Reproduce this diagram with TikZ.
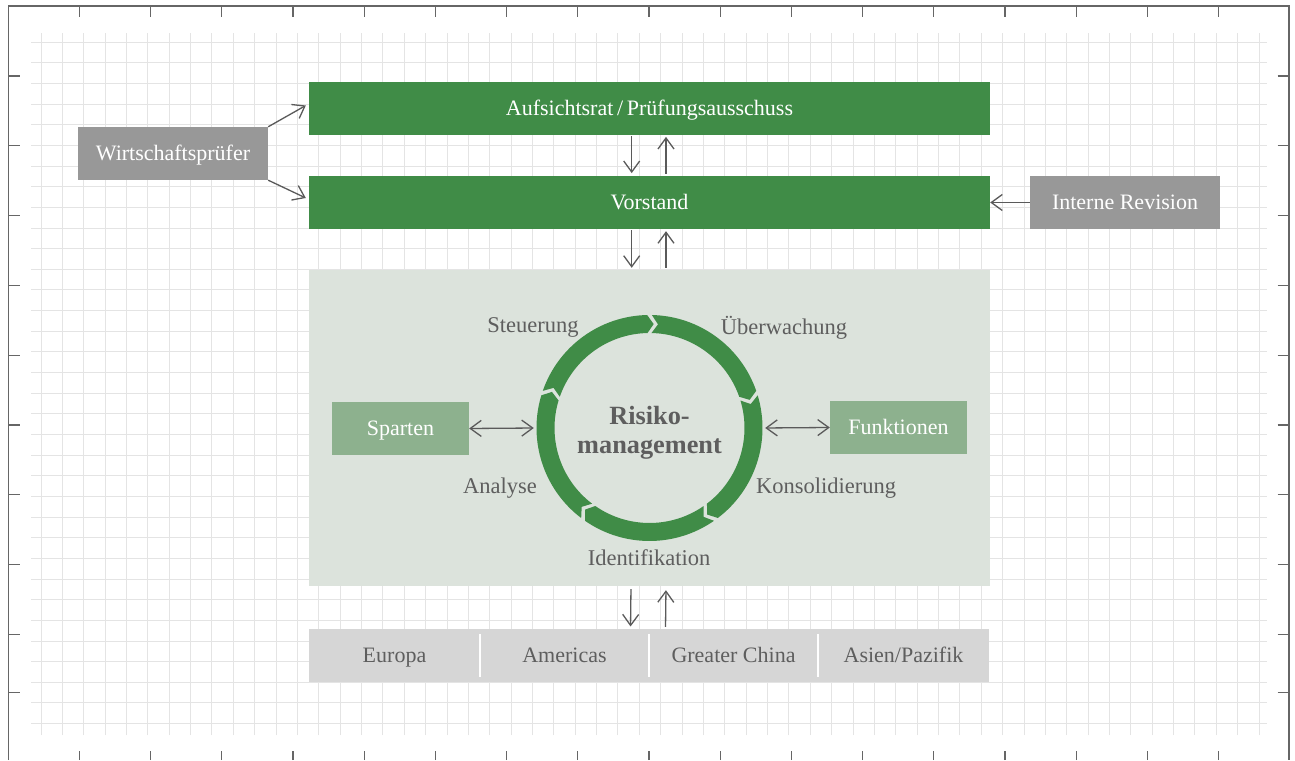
\documentclass[tikz,border=0pt]{standalone}
\usepackage{fontspec}
\setmainfont{Liberation Serif}
\usetikzlibrary{arrows.meta,calc}
\definecolor{mgreen}{HTML}{408C47}
\definecolor{boxgray}{HTML}{989898}
\definecolor{ltgreen}{HTML}{8DB18E}
\definecolor{riskbg}{HTML}{DCE3DC}
\definecolor{barbg}{HTML}{D6D6D6}
\definecolor{textgray}{HTML}{5E5E5E}
\definecolor{arrowc}{HTML}{5A5A5A}
\definecolor{gridc}{HTML}{E4E4E4}
\definecolor{framec}{HTML}{666666}
\newcommand{\txtfont}{\fontsize{22}{26}\selectfont}
\newcommand{\lblfont}{\fontsize{22.5}{27}\selectfont}
\newcommand{\boldfont}{\fontsize{26.3}{29}\selectfont\bfseries}
\tikzset{
  gridline/.style={draw=gridc, line width=1.3pt},
  frameline/.style={draw=framec, line width=1.5pt},
  tickline/.style={draw=framec, line width=1.2pt},
  txt/.style={font=\txtfont, text height=14.5pt, text depth=0pt, inner sep=0pt},
  greenbox/.style={txt, fill=mgreen, text=white, minimum width=681pt, minimum height=53pt},
  graybox/.style={txt, fill=boxgray, text=white, minimum width=190pt, minimum height=53pt},
  ltbox/.style={txt, fill=ltgreen, text=white, minimum width=137pt, minimum height=53pt},
  riskarea/.style={fill=riskbg, minimum width=681pt, minimum height=316pt, inner sep=0pt},
  barbox/.style={fill=barbg, minimum width=680pt, minimum height=53pt, inner sep=0pt},
  cell/.style={txt, text=textgray, minimum height=53pt},
  lbl/.style={font=\lblfont, text height=14.8pt, text depth=0pt, inner sep=0pt, text=textgray},
  arr/.style={draw=arrowc, line width=1.3pt, -{Straight Barb[length=11pt,width=16pt]}},
  darr/.style={draw=arrowc, line width=1.3pt, {Straight Barb[length=11pt,width=16pt]}-{Straight Barb[length=11pt,width=16pt]}},
  ringseg/.style={fill=mgreen},
  divider/.style={draw=white, line width=2pt}
}
\begin{document}
\begin{tikzpicture}[x=1pt,y=1pt]
\useasboundingbox (0,0) rectangle (1295,760);
\fill[white] (0,0) rectangle (1295,760);
% grid
\foreach \k in {0,...,57} {
  \pgfmathsetmacro\gx{round(40.5+21.37*\k)+0.5}
  \draw[gridline] (\gx,25) -- (\gx,727);
}
\foreach \k in {0,...,33} {
  \pgfmathsetmacro\gy{round(717.3-20.65*\k)+0.5}
  \draw[gridline] (31,\gy) -- (1267,\gy);
}
% frame and ticks
\draw[frameline] (8.5,0) -- (8.5,754) -- (1289,754) -- (1289,0);
\foreach \k in {0,...,16} {
  \pgfmathsetmacro\tx{79.3+71.2*\k}
  \draw[tickline] (\tx,754) -- (\tx,743);
  \draw[tickline] (\tx,0) -- (\tx,9.3);
}
\foreach \ty in {684,614.5,544.5,474.5,404.7,334.9,265.1,195.3,125.5,67.3} {
  \draw[tickline] (8.5,\ty) -- (20,\ty);
  \draw[tickline] (1277.7,\ty) -- (1289,\ty);
}
% boxes
\node[greenbox] (auf) at (649.5,651.5) {Aufsichtsrat\,/\,Prüfungsausschuss};
\node[greenbox] (vor) at (649.5,557.5) {Vorstand};
\node[graybox] (wp) at (173,606.5) {Wirtschaftsprüfer};
\node[graybox] (ir) at (1125,557.5) {Interne Revision};
\node[riskarea] (risk) at (649.5,332) {};
\node[ltbox] (sp) at (400.5,331.5) {Sparten};
\node[ltbox] (fk) at (898.5,332.5) {Funktionen};
\node[barbox] (bar) at (649,104.5) {};
\node[cell, minimum width=171pt] (eu) at (394.5,104.5) {Europa};
\node[cell, minimum width=169pt] (am) at (564.5,104.5) {Americas};
\node[cell, minimum width=169pt] (gc) at (733.5,104.5) {Greater China};
\node[cell, minimum width=171pt] (ap) at (903.5,104.5) {Asien/Pazifik};
\draw[divider] ([yshift=-5pt]eu.north east) -- ([yshift=5pt]eu.south east);
\draw[divider] ([yshift=-5pt]am.north east) -- ([yshift=5pt]am.south east);
\draw[divider] ([yshift=-5pt]gc.north east) -- ([yshift=5pt]gc.south east);
% ring
\node[circle, minimum size=226pt, inner sep=0pt] (ring) at (649.5,332) {};
\begin{scope}[shift={(649.5,332)}]
\def\R{113}\def\r{95}\def\M{104}\def\g{1.2}\def\d{3.5}
\foreach \s in {90,18,-54,-126,162} {
  \pgfmathsetmacro\aa{\s-\g}
  \pgfmathsetmacro\bb{\s-72+\g}
  \pgfmathsetmacro\tp{\s-72+\g-\d}
  \pgfmathsetmacro\nt{\s-\g-\d}
  \fill[ringseg] (\aa:\R) arc[start angle=\aa, end angle=\bb, radius=\R] -- (\tp:\M) -- (\bb:\r) arc[start angle=\bb, end angle=\aa, radius=\r] -- (\nt:\M) -- cycle;
}
\end{scope}
\node[font=\boldfont, text=textgray, align=center, inner sep=0pt] (rm) at (649.5,327) {Risiko-\\management};
% ring labels
\node[lbl] (st) at (533,435) {Steuerung};
\node[lbl] (ub) at (784,433) {Überwachung};
\node[lbl] (ko) at (826,274) {Konsolidierung};
\node[lbl] (id) at (649,202) {Identifikation};
\node[lbl] (an) at (500,274) {Analyse};
% arrows
\draw[arr] (wp.north east) -- ([shift={(-3,3)}]auf.west);
\draw[arr] (wp.south east) -- ([shift={(-3,4.5)}]vor.west);
\draw[arr] (ir.west) -- (vor.east);
\draw[arr, shorten <=1pt, shorten >=2.7pt] ([xshift=-17.8pt]auf.south) -- ([xshift=-17.8pt]vor.north);
\draw[arr, shorten <=2pt, shorten >=1.7pt] ([xshift=16.5pt]vor.north) -- ([xshift=16.5pt]auf.south);
\draw[arr, shorten <=1pt, shorten >=2pt] ([xshift=-17.8pt]vor.south) -- ([xshift=-17.8pt]risk.north);
\draw[arr, shorten <=2pt, shorten >=2pt] ([xshift=16.5pt]risk.north) -- ([xshift=16.5pt]vor.south);
\draw[arr, shorten <=3pt, shorten >=2.3pt] ([xshift=-18.5pt]risk.south) -- ([xshift=-18.5pt]bar.north);
\draw[arr, shorten <=2pt, shorten >=4pt] ([xshift=16.5pt]bar.north) -- ([xshift=16.5pt]risk.south);
\draw[darr, shorten >=2.5pt] (sp.east) -- (ring.west);
\draw[darr, shorten <=2.5pt] (ring.east) -- (fk.west);
\end{tikzpicture}
\end{document}
